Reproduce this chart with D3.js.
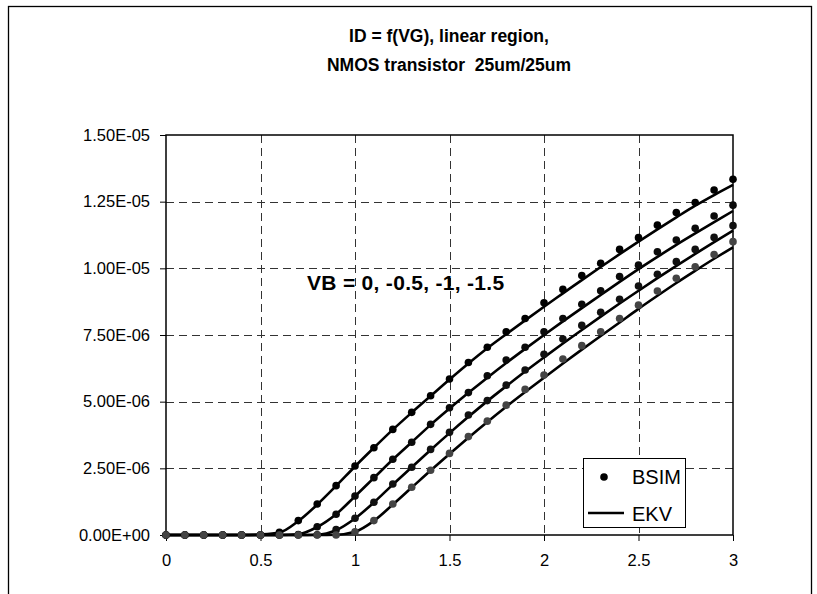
<!DOCTYPE html>
<html>
<head>
<meta charset="utf-8">
<script src="https://cdn.jsdelivr.net/npm/d3@7"></script>
<style>
  body { margin: 0; background: #fff; }
  text { font-family: 'Liberation Sans', Arial, sans-serif; fill: #000; }
</style>
</head>
<body>
<svg width="817" height="594"></svg>
<script>
/* global d3 */

// gate voltage VG (V)
const vg = [0, 0.1, 0.2, 0.3, 0.4, 0.5, 0.6, 0.7, 0.8, 0.9, 1.0, 1.1, 1.2, 1.3, 1.4, 1.5,
  1.6, 1.7, 1.8, 1.9, 2.0, 2.1, 2.2, 2.3, 2.4, 2.5, 2.6, 2.7, 2.8, 2.9, 3.0]

// drain current ID in uA, one array per bulk voltage VB = 0, -0.5, -1, -1.5
const bsim0 = [0, 0, 0, 0, 0, 0, 0.10, 0.54, 1.16, 1.85, 2.59, 3.27, 3.96, 4.60, 5.22, 5.85,
  6.47, 7.04, 7.62, 8.12, 8.71, 9.21, 9.73, 10.19, 10.71, 11.15, 11.62, 12.09, 12.47, 12.94, 13.34]
const bsim05 = [0, 0, 0, 0, 0, 0, 0, 0.02, 0.31, 0.78, 1.46, 2.15, 2.84, 3.48, 4.15, 4.77,
  5.34, 5.97, 6.56, 7.04, 7.62, 8.12, 8.65, 9.16, 9.69, 10.12, 10.62, 11.06, 11.50, 11.96, 12.37]
const bsim1 = [0, 0, 0, 0, 0, 0, 0, 0, 0.01, 0.20, 0.63, 1.23, 1.91, 2.54, 3.21, 3.85,
  4.50, 5.04, 5.62, 6.19, 6.78, 7.35, 7.86, 8.35, 8.84, 9.34, 9.78, 10.25, 10.71, 11.16, 11.60]
const bsim15 = [0, 0, 0, 0, 0, 0, 0, 0, 0, 0, 0.12, 0.54, 1.16, 1.79, 2.43, 3.06,
  3.69, 4.27, 4.87, 5.46, 6.00, 6.60, 7.10, 7.62, 8.12, 8.62, 9.15, 9.63, 10.06, 10.52, 11.00]

const ekv0 = [0, 0, 0, 0, 0, 0.02, 0.09, 0.52, 1.14, 1.84, 2.57, 3.27, 3.95, 4.59, 5.21, 5.83,
  6.43, 7.00, 7.53, 8.05, 8.56, 9.06, 9.56, 10.05, 10.53, 11.00, 11.46, 11.91, 12.35, 12.75, 13.13]
const ekv05 = [0, 0, 0, 0, 0, 0, 0, 0.03, 0.30, 0.78, 1.45, 2.14, 2.83, 3.48, 4.13, 4.74,
  5.33, 5.90, 6.45, 6.98, 7.50, 8.01, 8.51, 9.00, 9.49, 9.97, 10.43, 10.88, 11.31, 11.73, 12.15]
const ekv1 = [0, 0, 0, 0, 0, 0, 0, 0, 0.01, 0.18, 0.62, 1.22, 1.89, 2.54, 3.19, 3.82,
  4.43, 5.02, 5.58, 6.13, 6.66, 7.18, 7.69, 8.19, 8.68, 9.16, 9.63, 10.09, 10.54, 10.98, 11.41]
const ekv15 = [0, 0, 0, 0, 0, 0, 0, 0, 0, 0.01, 0.12, 0.53, 1.14, 1.78, 2.42, 3.04,
  3.65, 4.24, 4.81, 5.36, 5.90, 6.43, 6.95, 7.46, 7.97, 8.48, 8.97, 9.45, 9.91, 10.36, 10.79]

const xTicks = [0, 0.5, 1, 1.5, 2, 2.5, 3]
const yTicks = [0, 2.5, 5, 7.5, 10, 12.5, 15]

const bsimSeries = [bsim0, bsim05, bsim1, bsim15]
const ekvSeries = [ekv0, ekv05, ekv1, ekv15]
const dotColors = ['#000', '#0a0a0a', '#111', '#444']

const svg = d3.select('svg')
const plot = { left: 166, top: 135, right: 733, bottom: 535 }

// outer chart frame
svg.append('rect')
  .attr('x', 8.5).attr('y', 6.5)
  .attr('width', 803).attr('height', 600)
  .attr('fill', 'none').attr('stroke', '#000').attr('stroke-width', 1.3)

const x = d3.scaleLinear().domain([0, 3]).range([plot.left, plot.right])
const y = d3.scaleLinear().domain([0, 15]).range([plot.bottom, plot.top])

// "1.25E-05" style labels
const sci = v => {
  const [m, e] = (v * 1e-6).toExponential(2).toUpperCase().split('E')
  const n = +e
  return m + 'E' + (n < 0 ? '-' : '+') + String(Math.abs(n)).padStart(2, '0')
}

// dashed grid
const grid = svg.append('g').attr('stroke', '#333').attr('stroke-dasharray', '8,5')
grid.selectAll('line.v').data(xTicks.slice(1, -1)).enter().append('line')
  .attr('x1', d => Math.round(x(d)) + 0.5).attr('x2', d => Math.round(x(d)) + 0.5)
  .attr('y1', plot.top).attr('y2', plot.bottom)
grid.selectAll('line.h').data(yTicks.slice(1, -1)).enter().append('line')
  .attr('y1', d => Math.round(y(d)) + 0.5).attr('y2', d => Math.round(y(d)) + 0.5)
  .attr('x1', plot.left).attr('x2', plot.right)

// axes
const xAxis = svg.append('g')
  .attr('transform', 'translate(0,' + plot.bottom + ')')
  .call(d3.axisBottom(x).tickValues(xTicks).tickFormat(d3.format('')).tickSize(6).tickSizeOuter(0).tickPadding(13))
const yAxis = svg.append('g')
  .attr('transform', 'translate(' + plot.left + ',0)')
  .call(d3.axisLeft(y).tickValues(yTicks).tickFormat(sci).tickSize(6).tickSizeOuter(0).tickPadding(10))
;[xAxis, yAxis].forEach(a => {
  a.select('.domain').remove()
  a.selectAll('line').attr('stroke', '#000')
  a.selectAll('text').attr('font-size', 16.5).attr('font-family', "'Liberation Sans', Arial, sans-serif").attr('fill', '#000')
})

// plot frame
svg.append('rect')
  .attr('x', plot.left).attr('y', plot.top)
  .attr('width', plot.right - plot.left).attr('height', plot.bottom - plot.top)
  .attr('fill', 'none').attr('stroke', '#000').attr('stroke-width', 1.5)

// EKV model lines
const line = d3.line()
  .x((d, i) => x(vg[i]))
  .y(d => y(d))
  .curve(d3.curveMonotoneX)

svg.append('g').selectAll('path').data(ekvSeries).enter().append('path')
  .attr('d', line)
  .attr('fill', 'none').attr('stroke', '#000').attr('stroke-width', 2.6)

// BSIM points
bsimSeries.forEach((s, k) => {
  svg.append('g').selectAll('circle').data(s).enter().append('circle')
    .attr('cx', (d, i) => x(vg[i]))
    .attr('cy', d => y(d))
    .attr('r', 3.8)
    .attr('fill', dotColors[k])
})

// titles
const title = svg.append('text')
  .attr('text-anchor', 'middle')
  .attr('font-weight', 'bold')
  .attr('font-size', 17.5)
title.append('tspan').attr('x', 449).attr('y', 42).text('ID = f(VG), linear region,')
title.append('tspan').attr('x', 449).attr('y', 71).text('NMOS transistor\u00a0\u00a025um/25um')

svg.append('text')
  .attr('x', 307).attr('y', 290)
  .attr('font-weight', 'bold')
  .attr('font-size', 21)
  .attr('letter-spacing', 0.3)
  .text('VB = 0, -0.5, -1, -1.5')

// legend
const legend = svg.append('g')
legend.append('rect')
  .attr('x', 583.5).attr('y', 458.5).attr('width', 102).attr('height', 69)
  .attr('fill', '#fff').attr('stroke', '#000').attr('stroke-width', 1)
legend.append('circle').attr('cx', 604).attr('cy', 477).attr('r', 3.8).attr('fill', '#000')
legend.append('line')
  .attr('x1', 588).attr('x2', 624).attr('y1', 513).attr('y2', 513)
  .attr('stroke', '#000').attr('stroke-width', 2.6)
legend.append('text').attr('x', 632).attr('y', 484).attr('font-size', 20).text('BSIM')
legend.append('text').attr('x', 632).attr('y', 521).attr('font-size', 20).text('EKV')
</script>
</body>
</html>
